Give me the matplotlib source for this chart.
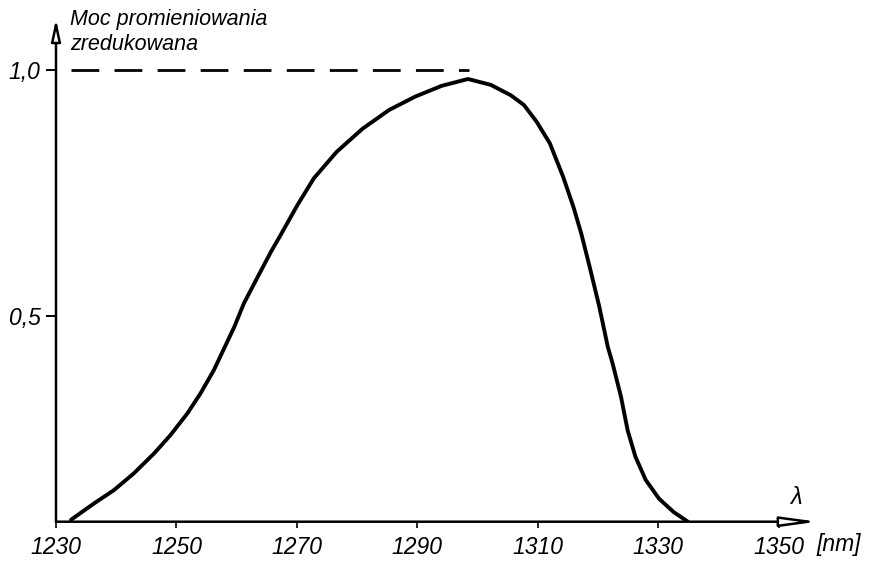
import matplotlib
matplotlib.use("Agg")
import matplotlib.pyplot as plt

# values (y on the drawing's own scale)
wavelength = [1232.5, 1236.3, 1239.6, 1242.9, 1246.3, 1249.0, 1251.8, 1254.0, 1256.2,
              1257.9, 1259.6, 1261.2, 1263.5, 1265.7, 1267.3, 1270.1, 1272.8, 1276.6,
              1280.9, 1285.3, 1289.6, 1294.0, 1298.4, 1302.2, 1305.5, 1307.7, 1309.8,
              1312.0, 1314.2, 1315.9, 1317.2, 1318.6, 1320.2, 1321.6, 1322.4, 1323.8,
              1324.9, 1326.2, 1327.9, 1330.1, 1332.5, 1334.9]
power = [0.086, 0.119, 0.146, 0.180, 0.221, 0.258, 0.302, 0.343, 0.390,
         0.434, 0.478, 0.526, 0.580, 0.631, 0.665, 0.726, 0.780, 0.834,
         0.881, 0.919, 0.946, 0.968, 0.982, 0.970, 0.949, 0.929, 0.895,
         0.851, 0.783, 0.722, 0.668, 0.600, 0.519, 0.438, 0.404, 0.336,
         0.268, 0.214, 0.167, 0.129, 0.102, 0.082]
ref_x = [1232.5, 1298.6]
ref_y = [1.0, 1.0]

xticks = [1230, 1250, 1270, 1290, 1310, 1330, 1350]
xtick_labels = ["1230", "1250", "1270", "1290", "1310", "1330", "1350"]
yticks = [0.5, 1.0]
ytick_labels = ["0,5", "1,0"]

plt.rcParams['font.family'] = ['Liberation Sans', 'DejaVu Sans']
plt.rcParams['lines.scale_dashes'] = False

W, H = 883, 563
fig = plt.figure(figsize=(W / 100, H / 100), dpi=100)
x0, y0 = 56, 521.7          # axis origin in pixels
ax = fig.add_axes([x0 / W, (H - y0) / H, 774 / W, 503.7 / H])
ax.set_xlim(1230, 1358.5)
ax.set_ylim(0.082, 1.106)

ax.plot(wavelength, power, color="black", lw=2.8, solid_capstyle="round",
        solid_joinstyle="round")
ax.plot(ref_x, ref_y, color="black", lw=2.0, dashes=(20, 11))

for s in ["top", "right", "left", "bottom"]:
    ax.spines[s].set_visible(False)

# axes drawn as arrows with open heads
ax.annotate("", xy=(0, 0.998), xytext=(0, 0), xycoords="axes fraction",
            arrowprops=dict(arrowstyle="-|>,head_length=1.3,head_width=0.28",
                            lw=1.8, fc="white", ec="black", shrinkA=0, shrinkB=0))
ax.annotate("", xy=(0.984, 0), xytext=(0, 0), xycoords="axes fraction",
            arrowprops=dict(arrowstyle="-|>,head_length=2.2,head_width=0.3",
                            lw=1.8, fc="white", ec="black", shrinkA=0, shrinkB=0))

ax.set_xticks(xticks)
ax.set_xticklabels(xtick_labels, fontstyle="italic", fontsize=16.5)
ax.set_yticks(yticks)
ax.set_yticklabels(ytick_labels, fontstyle="italic", fontsize=16.5)
ax.tick_params(axis="x", direction="out", length=4, width=1.2, pad=6)
ax.tick_params(axis="y", direction="out", length=7, width=1.4, pad=4)

fig.text(816 / W, 1 - 544 / H, "[nm]", fontstyle="italic", fontsize=16.5,
         ha="left", va="center")
fig.text(796 / W, 1 - 498 / H, "λ", fontstyle="italic", fontsize=17,
         ha="center", va="center")
fig.text(70 / W, 1 - 19 / H, "Moc promieniowania", fontstyle="italic",
         fontsize=15.5, ha="left", va="center")
fig.text(70 / W, 1 - 45 / H, "zredukowana", fontstyle="italic",
         fontsize=15.5, ha="left", va="center")

plt.savefig("out.png", dpi=100)
